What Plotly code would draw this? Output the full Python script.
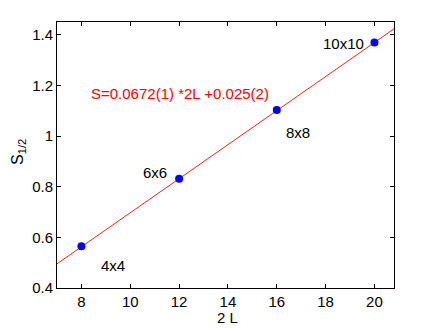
import plotly.graph_objects as go

# -----------------------------
# DATA
# -----------------------------
two_L = [8, 12, 16, 20]
S_half = [0.565, 0.831, 1.103, 1.369]
S_err = [0.002, 0.003, 0.004, 0.009]
sizes = ["4x4", "6x6", "8x8", "10x10"]

# label anchor points (data coords)
label_x = [8.74, 10.44, 16.3, 17.82]
label_y = [0.49, 0.855, 1.013, 1.367]

# linear fit  S = a*2L + b
fit_a = 0.0672
fit_b = 0.025
fit_x = [6.5, 21.5]
fit_y = [fit_a * x + fit_b for x in fit_x]
fit_text = "S=0.0672(1) *2L +0.025(2)"

x_ticks = [8, 10, 12, 14, 16, 18, 20]
y_ticks = [0.4, 0.6, 0.8, 1.0, 1.2, 1.4]
y_tick_text = ["0.4", "0.6", "0.8", "1", "1.2", "1.4"]

FONT = "Liberation Sans, Arial, Helvetica, sans-serif"

fig = go.Figure()

fig.add_trace(go.Scatter(
    x=fit_x, y=fit_y, mode="lines",
    line=dict(color="#ff2020", width=1),
    showlegend=False, hoverinfo="skip"
))

fig.add_trace(go.Scatter(
    x=two_L, y=S_half, mode="markers",
    marker=dict(color="#0000ff", size=8),
    error_y=dict(type="data", array=S_err, color="#7f7fff", thickness=1, width=3),
    showlegend=False
))

for t, xx, yy in zip(sizes, label_x, label_y):
    fig.add_annotation(x=xx, y=yy, text=t, showarrow=False,
                       xanchor="left", yanchor="middle",
                       font=dict(size=15, color="black", family=FONT))

fig.add_annotation(x=8.3, y=1.168, text=fit_text, showarrow=False,
                   xanchor="left", yanchor="middle",
                   font=dict(size=15, color="#ff0000", family=FONT))

# axis titles as annotations so they sit exactly where MATLAB put them
fig.add_annotation(x=0.5, y=0, xref="paper", yref="paper", text="2 L",
                   showarrow=False, xanchor="center", yanchor="middle",
                   xshift=2, yshift=-29,
                   font=dict(size=15, color="black", family=FONT))
fig.add_annotation(x=0, y=0.5, xref="paper", yref="paper", text="S<sub>1/2</sub>",
                   showarrow=False, textangle=-90, xanchor="center", yanchor="middle",
                   xshift=-39, yshift=3,
                   font=dict(size=16, color="black", family=FONT))

axis_common = dict(
    showline=True, linecolor="black", linewidth=1, mirror="ticks",
    ticks="inside", ticklen=4, tickcolor="black",
    showgrid=False, zeroline=False, automargin=False,
    tickfont=dict(size=15, color="black", family=FONT),
)

fig.update_xaxes(range=[7, 20.8], tickvals=x_ticks, **axis_common)
fig.update_yaxes(range=[0.4, 1.45], tickvals=y_ticks, ticktext=y_tick_text, **axis_common)

# page body has an 8px margin, so the figure is sized to fit the window
fig.update_layout(
    width=428, height=320,
    margin=dict(l=49, r=42, t=14, b=40),
    paper_bgcolor="white", plot_bgcolor="white",
    font=dict(family=FONT),
)

fig.write_html("out.html")
